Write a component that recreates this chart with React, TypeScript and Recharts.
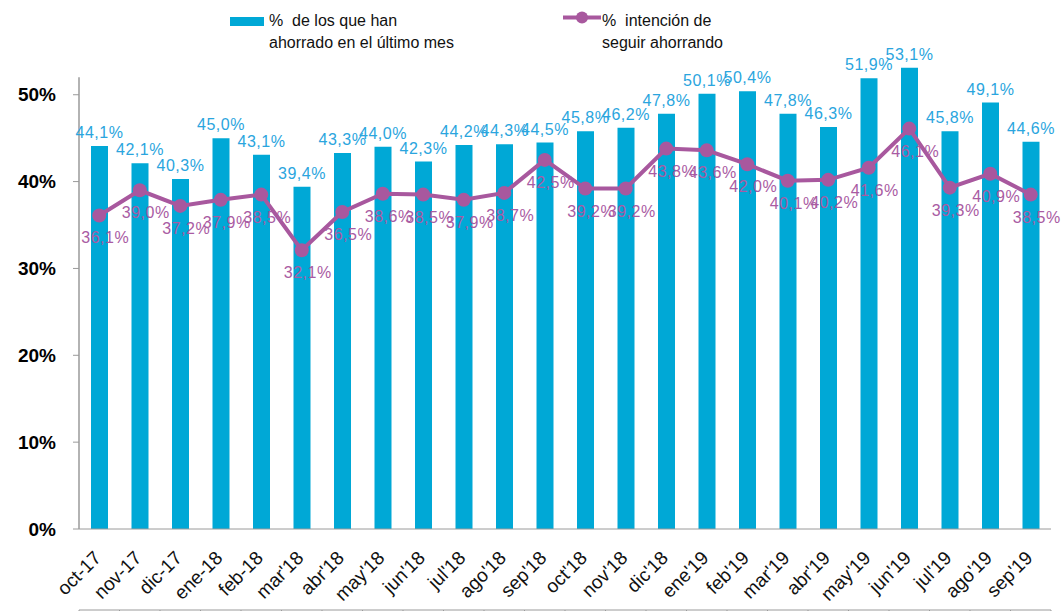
import React from 'react';
import { ComposedChart, Bar, Line, XAxis, YAxis, LabelList, ReferenceLine } from 'recharts';

const months = [
  'oct-17', 'nov-17', 'dic-17', 'ene-18', 'feb-18', "mar'18", "abr'18", "may'18",
  "jun'18", "jul'18", "ago'18", "sep'18", "oct'18", "nov'18", "dic'18", "ene'19",
  "feb'19", "mar'19", "abr'19", "may'19", "jun'19", "jul'19", "ago'19", "sep'19",
];
const ahorrado = [
  44.1, 42.1, 40.3, 45.0, 43.1, 39.4, 43.3, 44.0, 42.3, 44.2, 44.3, 44.5,
  45.8, 46.2, 47.8, 50.1, 50.4, 47.8, 46.3, 51.9, 53.1, 45.8, 49.1, 44.6,
];
const intencion = [
  36.1, 39.0, 37.2, 37.9, 38.5, 32.1, 36.5, 38.6, 38.5, 37.9, 38.7, 42.5,
  39.2, 39.2, 43.8, 43.6, 42.0, 40.1, 40.2, 41.6, 46.1, 39.3, 40.9, 38.5,
];
const yTicks = [0, 10, 20, 30, 40, 50];
const yAxisTop = 52;
const boundaryTicks = Array.from({ length: months.length + 1 }, (_, i) => i);

const legendBar = ['%  de los que han', 'ahorrado en el último mes'];
const legendLine = ['%  intención de', 'seguir ahorrando'];

const data = months.map((m, i) => ({ m, i: i + 0.5, a: ahorrado[i], b: intencion[i] }));

const BAR = '#00A8D6';
const BAR_LABEL = '#2AA5DE';
const LINE = '#A8589E';
const LINE_LABEL = '#A95BA3';
const AXIS = '#9A9A9A';
const FONT = '"Liberation Sans", Arial, sans-serif';

const fmt = (v: number) => `${v.toFixed(1).replace('.', ',')}%`;

const MonthTick = (props: any) => {
  const { x, y, payload } = props;
  const ax = x + 3;
  const ay = y + 30;
  return (
    <text
      x={ax}
      y={ay}
      transform={`rotate(-45 ${ax} ${ay})`}
      textAnchor="end"
      fontSize={19}
      fontFamily={FONT}
      fill="#111"
    >
      {payload.value}
    </text>
  );
};

const NoTick = () => <g />;

const BarLabel = (props: any) => {
  const { x, y, width, value } = props;
  return (
    <text
      x={x + width / 2}
      y={y - 8}
      textAnchor="middle"
      fontSize={16}
      letterSpacing={0.5}
      fontFamily={FONT}
      fill={BAR_LABEL}
    >
      {fmt(Number(value))}
    </text>
  );
};

const LineLabel = (props: any) => {
  const { x, y, value } = props;
  return (
    <text
      x={x + 6}
      y={y + 28}
      textAnchor="middle"
      fontSize={16}
      letterSpacing={0.5}
      fontFamily={FONT}
      fill={LINE_LABEL}
    >
      {fmt(Number(value))}
    </text>
  );
};

export default function App() {
  return (
    <div style={{ position: 'absolute', left: 0, top: 0, width: 1061, height: 611, background: '#fff', fontFamily: FONT }}>
      <div style={{ position: 'absolute', left: 230, top: 17, width: 34, height: 9, background: BAR }} />
      <div style={{ position: 'absolute', left: 269, top: 10, fontSize: 16, lineHeight: '22px', color: '#111', whiteSpace: 'pre' }}>
        {legendBar.map((t) => (
          <div key={t}>{t}</div>
        ))}
      </div>
      <svg style={{ position: 'absolute', left: 563, top: 9 }} width={38} height={17}>
        <line x1={0} y1={8.5} x2={38} y2={8.5} stroke={LINE} strokeWidth={4} />
        <circle cx={19} cy={8.5} r={6} fill={LINE} />
      </svg>
      <div style={{ position: 'absolute', left: 602, top: 10, fontSize: 16, lineHeight: '22px', color: '#111', whiteSpace: 'pre' }}>
        {legendLine.map((t) => (
          <div key={t}>{t}</div>
        ))}
      </div>
      <ComposedChart width={1061} height={611} data={data} margin={{ top: 60, right: 10, bottom: 0, left: 0 }}>
        <XAxis
          xAxisId="c"
          dataKey="m"
          type="category"
          interval={0}
          height={81}
          stroke={AXIS}
          axisLine
          tickLine={false}
          tickSize={0}
          tickMargin={0}
          tick={<MonthTick />}
        />
        <XAxis
          xAxisId="n"
          dataKey="i"
          type="number"
          domain={[0, months.length]}
          allowDataOverflow
          ticks={boundaryTicks}
          interval={0}
          height={1}
          stroke={AXIS}
          tick={NoTick}
          tickSize={6}
          tickLine
          axisLine
        />
        <YAxis
          domain={[0, 54]}
          ticks={yTicks}
          interval={0}
          width={79}
          stroke={AXIS}
          axisLine={false}
          tickLine
          tickSize={6}
          tickMargin={17}
          tickFormatter={(v: number) => `${v}%`}
          tick={{ fontSize: 19, fontWeight: 'bold', fill: '#000', fontFamily: FONT }}
        />
        <Bar xAxisId="c" dataKey="a" fill={BAR} barSize={17} isAnimationActive={false}>
          <LabelList dataKey="a" content={<BarLabel />} />
        </Bar>
        <Line
          xAxisId="n"
          dataKey="a"
          stroke="none"
          dot={false}
          activeDot={false}
          legendType="none"
          isAnimationActive={false}
        />
        <Line
          xAxisId="c"
          dataKey="b"
          stroke={LINE}
          strokeWidth={4}
          dot={{ r: 7, fill: LINE, stroke: 'none' }}
          isAnimationActive={false}
        >
          <LabelList dataKey="b" content={<LineLabel />} />
        </Line>
        <ReferenceLine
          xAxisId="n"
          segment={[{ x: 0, y: 0 }, { x: 0, y: yAxisTop }]}
          stroke={AXIS}
          strokeWidth={1.5}
          ifOverflow="visible"
        />
      </ComposedChart>
    </div>
  );
}
